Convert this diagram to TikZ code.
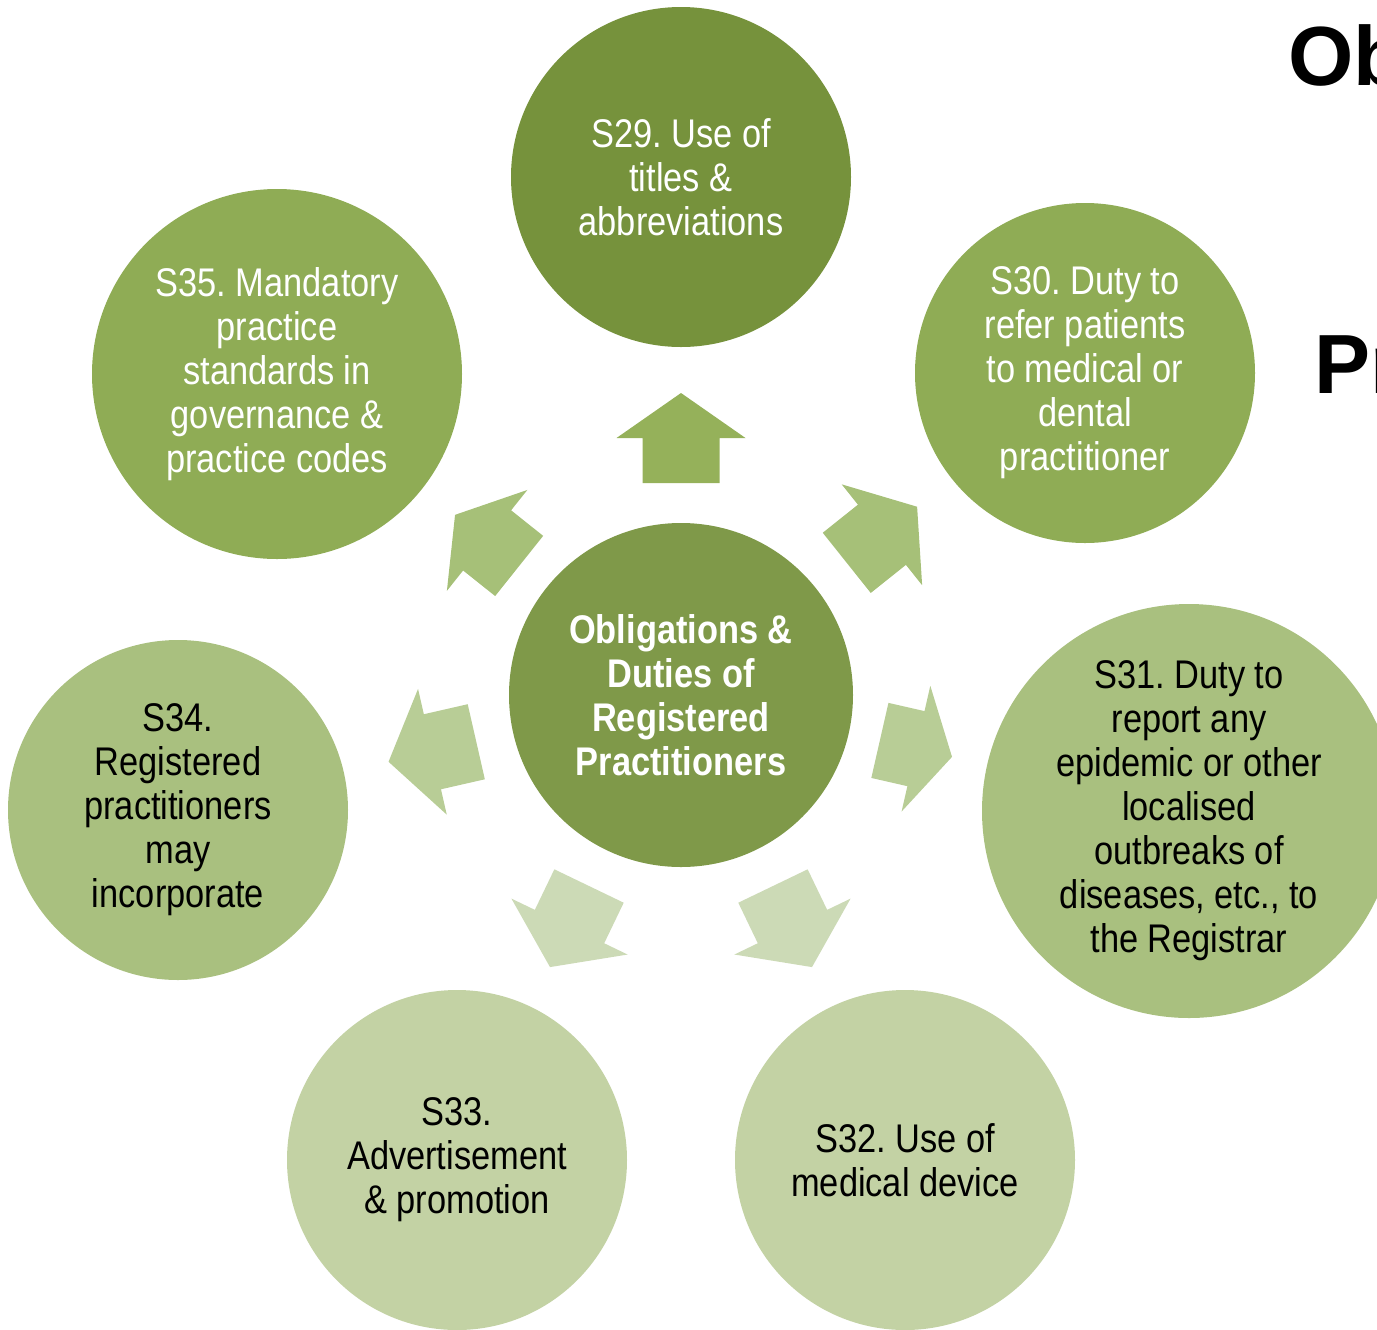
\documentclass[tikz,border=0pt]{standalone}
\usepackage{fontspec}
\setmainfont{Liberation Sans}[FakeStretch=0.86]
\newfontfamily\titlefont{Liberation Sans}
\frenchspacing
\definecolor{cTop}{HTML}{76923C}
\definecolor{cCenter}{HTML}{7F9949}
\definecolor{cTwo}{HTML}{8FAC55}
\definecolor{cThree}{HTML}{A9C07F}
\definecolor{cFour}{HTML}{C3D2A4}
\definecolor{aOne}{HTML}{95B15A}
\definecolor{aTwo}{HTML}{A6C078}
\definecolor{aThree}{HTML}{B8CD96}
\definecolor{aFour}{HTML}{CCDAB6}
\begin{document}
\begin{tikzpicture}[x=0.5pt,y=-0.5pt,
  bubble/.style={circle, inner sep=0pt, minimum size=#1, align=center,
    font=\fontsize{20}{22}\selectfont},
  titletext/.style={anchor=base west, inner sep=0pt,
    font=\titlefont\bfseries\fontsize{42}{44}\selectfont}]
\useasboundingbox (0,0) rectangle (1377,1329);
% title fragments behind the diagram
\node[titletext] (t1) at (1288,85) {Ob};
\node[titletext] (t2) at (1314,393) {Pr};
% circles
\node[bubble=172pt, fill=cCenter, text=white, font=\bfseries\fontsize{20}{22}\selectfont] (c) at (681,695)
  {Obligations \&\\Duties of\\Registered\\Practitioners};
\node[bubble=170pt, fill=cTop, text=white] (s29) at (681,177)
  {S29. Use of\\titles \&\\abbreviations};
\node[bubble=170pt, fill=cTwo, text=white] (s30) at (1085,373)
  {S30. Duty to\\refer patients\\to medical or\\dental\\practitioner};
\node[bubble=207pt, fill=cThree, text=black] (s31) at (1189,811)
  {S31. Duty to\\report any\\epidemic or other\\localised\\outbreaks of\\diseases, etc., to\\the Registrar};
\node[bubble=170pt, fill=cFour, text=black] (s32) at (905,1160)
  {S32. Use of\\medical device};
\node[bubble=170pt, fill=cFour, text=black] (s33) at (457,1160)
  {S33.\\Advertisement\\\& promotion};
\node[bubble=170pt, fill=cThree, text=black] (s34) at (178,810)
  {S34.\\Registered\\practitioners\\may\\incorporate};
\node[bubble=185pt, fill=cTwo, text=white] (s35) at (277,374)
  {S35. Mandatory\\practice\\standards in\\governance \&\\practice codes};
% block arrows radiating from the centre
\foreach \ang/\col/\b/\h/\t in {90/aOne/212/257/302, 38.57/aTwo/212/257/302,
    141.43/aTwo/207/248/289, -12.86/aThree/204/241/278,
    -167.14/aThree/210/255/300, -64.29/aFour/212/257/302,
    -115.71/aFour/212/257/302}
  \fill[\col, shift={(c.center)}, rotate=\ang]
    (\b,-38.5) -- (\h,-38.5) -- (\h,-64.5) -- (\t,0) -- (\h,64.5)
    -- (\h,38.5) -- (\b,38.5) -- cycle;
\end{tikzpicture}
\end{document}
